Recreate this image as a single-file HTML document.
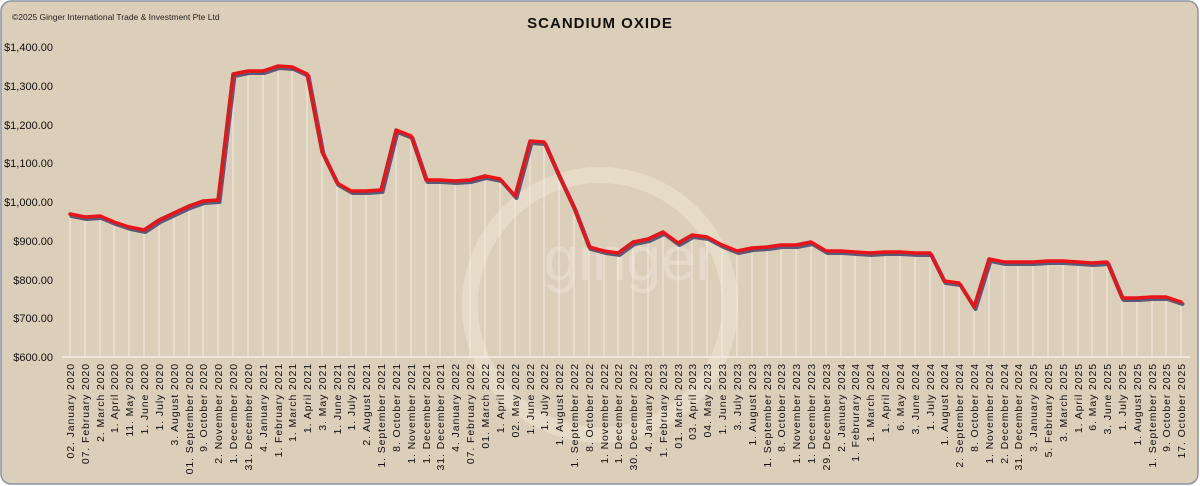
<!DOCTYPE html>
<html><head><meta charset="utf-8"><style>
html,body{margin:0;padding:0;background:#fff;}
svg{display:block;}
</style></head><body>
<svg width="1200" height="486" xmlns="http://www.w3.org/2000/svg" font-family="Liberation Sans, sans-serif">
<rect x="1" y="1" width="1197" height="483" rx="10" fill="#dccfb9" stroke="#8a94a8" stroke-width="1.5"/>
<circle cx="600" cy="305" r="130" fill="none" stroke="#e8ddcb" stroke-width="16" opacity="0.8"/>
<text x="630" y="280" font-size="62" fill="#e6dccb" text-anchor="middle" opacity="0.9">ginger</text>
<text x="12" y="20" font-size="8.5" fill="#222">©2025 Ginger International Trade &amp; Investment Pte Ltd</text>
<text x="600" y="28" font-size="15" font-weight="bold" text-anchor="middle" letter-spacing="1" fill="#111">SCANDIUM OXIDE</text>
<g font-size="11" fill="#111" text-anchor="end">
<text x="53" y="51">$1,400.00</text><text x="53" y="90">$1,300.00</text><text x="53" y="129">$1,200.00</text><text x="53" y="167">$1,100.00</text><text x="53" y="206">$1,000.00</text><text x="53" y="245">$900.00</text><text x="53" y="284">$800.00</text><text x="53" y="322">$700.00</text><text x="53" y="361">$600.00</text>
</g>
<line x1="62" y1="357" x2="1190" y2="357" stroke="#f4efe6" stroke-width="1.5"/>
<g stroke="#f6f1e8" stroke-width="1" opacity="0.85">
<path d="M70 214V357M85 217V357M100 216V357M114 222V357M129 227V357M144 230V357M159 220V357M174 213V357M189 206V357M203 201V357M218 200V357M233 74V357M248 71V357M263 71V357M278 66V357M292 67V357M307 74V357M322 152V357M337 183V357M351 191V357M366 191V357M381 190V357M396 130V357M411 136V357M426 180V357M440 180V357M455 181V357M470 180V357M485 176V357M500 179V357M515 196V357M530 141V357M544 142V357M559 176V357M574 208V357M589 247V357M604 251V357M618 253V357M633 242V357M648 239V357M663 232V357M678 243V357M692 235V357M707 237V357M722 245V357M737 251V357M752 248V357M767 247V357M781 245V357M796 245V357M811 242V357M826 251V357M841 251V357M855 252V357M870 253V357M885 252V357M900 252V357M915 253V357M930 253V357M944 281V357M959 283V357M974 307V357M989 259V357M1004 262V357M1018 262V357M1033 262V357M1048 261V357M1063 261V357M1078 262V357M1092 263V357M1107 262V357M1122 298V357M1137 298V357M1152 297V357M1166 297V357M1181 302V357"/>
</g>
<polyline id="ln" fill="none" stroke-linejoin="round" stroke-linecap="round" points="70,214 85,217 100,216 114,222 129,227 144,230 159,220 174,213 189,206 203,201 218,200 233,74 248,71 263,71 278,66 292,67 307,74 322,152 337,183 351,191 366,191 381,190 396,130 411,136 426,180 440,180 455,181 470,180 485,176 500,179 515,196 530,141 544,142 559,176 574,208 589,247 604,251 618,253 633,242 648,239 663,232 678,243 692,235 707,237 722,245 737,251 752,248 767,247 781,245 796,245 811,242 826,251 841,251 855,252 870,253 885,252 900,252 915,253 930,253 944,281 959,283 974,307 989,259 1004,262 1018,262 1033,262 1048,261 1063,261 1078,262 1092,263 1107,262 1122,298 1137,298 1152,297 1166,297 1181,302" stroke="#5a5a78" stroke-width="4" transform="translate(1.5,2)"/>
<polyline fill="none" stroke-linejoin="round" stroke-linecap="round" points="70,214 85,217 100,216 114,222 129,227 144,230 159,220 174,213 189,206 203,201 218,200 233,74 248,71 263,71 278,66 292,67 307,74 322,152 337,183 351,191 366,191 381,190 396,130 411,136 426,180 440,180 455,181 470,180 485,176 500,179 515,196 530,141 544,142 559,176 574,208 589,247 604,251 618,253 633,242 648,239 663,232 678,243 692,235 707,237 722,245 737,251 752,248 767,247 781,245 796,245 811,242 826,251 841,251 855,252 870,253 885,252 900,252 915,253 930,253 944,281 959,283 974,307 989,259 1004,262 1018,262 1033,262 1048,261 1063,261 1078,262 1092,263 1107,262 1122,298 1137,298 1152,297 1166,297 1181,302" stroke="#e8141a" stroke-width="3.5"/>
<g font-size="10.5" fill="#111" text-anchor="end" letter-spacing="0.9">
<text transform="translate(74,363) rotate(-90)">02. January 2020</text>
<text transform="translate(89,363) rotate(-90)">07. February 2020</text>
<text transform="translate(104,363) rotate(-90)">2. March 2020</text>
<text transform="translate(118,363) rotate(-90)">1. April 2020</text>
<text transform="translate(133,363) rotate(-90)">11. May 2020</text>
<text transform="translate(148,363) rotate(-90)">1. June 2020</text>
<text transform="translate(163,363) rotate(-90)">1. July 2020</text>
<text transform="translate(178,363) rotate(-90)">3. August 2020</text>
<text transform="translate(193,363) rotate(-90)">01. September 2020</text>
<text transform="translate(207,363) rotate(-90)">9. October 2020</text>
<text transform="translate(222,363) rotate(-90)">2. November 2020</text>
<text transform="translate(237,363) rotate(-90)">1. December 2020</text>
<text transform="translate(252,363) rotate(-90)">31. December 2020</text>
<text transform="translate(267,363) rotate(-90)">4. January 2021</text>
<text transform="translate(282,363) rotate(-90)">1. February 2021</text>
<text transform="translate(296,363) rotate(-90)">1. March 2021</text>
<text transform="translate(311,363) rotate(-90)">1. April 2021</text>
<text transform="translate(326,363) rotate(-90)">3. May 2021</text>
<text transform="translate(341,363) rotate(-90)">1. June 2021</text>
<text transform="translate(355,363) rotate(-90)">1. July 2021</text>
<text transform="translate(370,363) rotate(-90)">2. August 2021</text>
<text transform="translate(385,363) rotate(-90)">1. September 2021</text>
<text transform="translate(400,363) rotate(-90)">8. October 2021</text>
<text transform="translate(415,363) rotate(-90)">1. November 2021</text>
<text transform="translate(430,363) rotate(-90)">1. December 2021</text>
<text transform="translate(444,363) rotate(-90)">31. December 2021</text>
<text transform="translate(459,363) rotate(-90)">4. January 2022</text>
<text transform="translate(474,363) rotate(-90)">07. February 2022</text>
<text transform="translate(489,363) rotate(-90)">01. March 2022</text>
<text transform="translate(504,363) rotate(-90)">1. April 2022</text>
<text transform="translate(519,363) rotate(-90)">02. May 2022</text>
<text transform="translate(534,363) rotate(-90)">1. June 2022</text>
<text transform="translate(548,363) rotate(-90)">1. July 2022</text>
<text transform="translate(563,363) rotate(-90)">1. August 2022</text>
<text transform="translate(578,363) rotate(-90)">1. September 2022</text>
<text transform="translate(593,363) rotate(-90)">8. October 2022</text>
<text transform="translate(608,363) rotate(-90)">1. November 2022</text>
<text transform="translate(622,363) rotate(-90)">1. December 2022</text>
<text transform="translate(637,363) rotate(-90)">30. December 2022</text>
<text transform="translate(652,363) rotate(-90)">4. January 2023</text>
<text transform="translate(667,363) rotate(-90)">1. February 2023</text>
<text transform="translate(682,363) rotate(-90)">01. March 2023</text>
<text transform="translate(696,363) rotate(-90)">03. April 2023</text>
<text transform="translate(711,363) rotate(-90)">04. May 2023</text>
<text transform="translate(726,363) rotate(-90)">1. June 2023</text>
<text transform="translate(741,363) rotate(-90)">3. July 2023</text>
<text transform="translate(756,363) rotate(-90)">1. August 2023</text>
<text transform="translate(771,363) rotate(-90)">1. September 2023</text>
<text transform="translate(785,363) rotate(-90)">8. October 2023</text>
<text transform="translate(800,363) rotate(-90)">1. November 2023</text>
<text transform="translate(815,363) rotate(-90)">1. December 2023</text>
<text transform="translate(830,363) rotate(-90)">29. December 2023</text>
<text transform="translate(845,363) rotate(-90)">2. January 2024</text>
<text transform="translate(859,363) rotate(-90)">1. Februrary 2024</text>
<text transform="translate(874,363) rotate(-90)">1. March 2024</text>
<text transform="translate(889,363) rotate(-90)">1. April 2024</text>
<text transform="translate(904,363) rotate(-90)">6. May 2024</text>
<text transform="translate(919,363) rotate(-90)">3. June 2024</text>
<text transform="translate(934,363) rotate(-90)">1. July 2024</text>
<text transform="translate(948,363) rotate(-90)">1. August 2024</text>
<text transform="translate(963,363) rotate(-90)">2. September 2024</text>
<text transform="translate(978,363) rotate(-90)">8. October 2024</text>
<text transform="translate(993,363) rotate(-90)">1. November 2024</text>
<text transform="translate(1008,363) rotate(-90)">2. December 2024</text>
<text transform="translate(1022,363) rotate(-90)">31. December 2024</text>
<text transform="translate(1037,363) rotate(-90)">3. January 2025</text>
<text transform="translate(1052,363) rotate(-90)">5. February 2025</text>
<text transform="translate(1067,363) rotate(-90)">3. March 2025</text>
<text transform="translate(1082,363) rotate(-90)">1. April 2025</text>
<text transform="translate(1096,363) rotate(-90)">6. May 2025</text>
<text transform="translate(1111,363) rotate(-90)">3. June 2025</text>
<text transform="translate(1126,363) rotate(-90)">1. July 2025</text>
<text transform="translate(1141,363) rotate(-90)">1. August 2025</text>
<text transform="translate(1156,363) rotate(-90)">1. September 2025</text>
<text transform="translate(1170,363) rotate(-90)">9. October 2025</text>
<text transform="translate(1185,363) rotate(-90)">17. October 2025</text>
</g>
</svg>
</body></html>
